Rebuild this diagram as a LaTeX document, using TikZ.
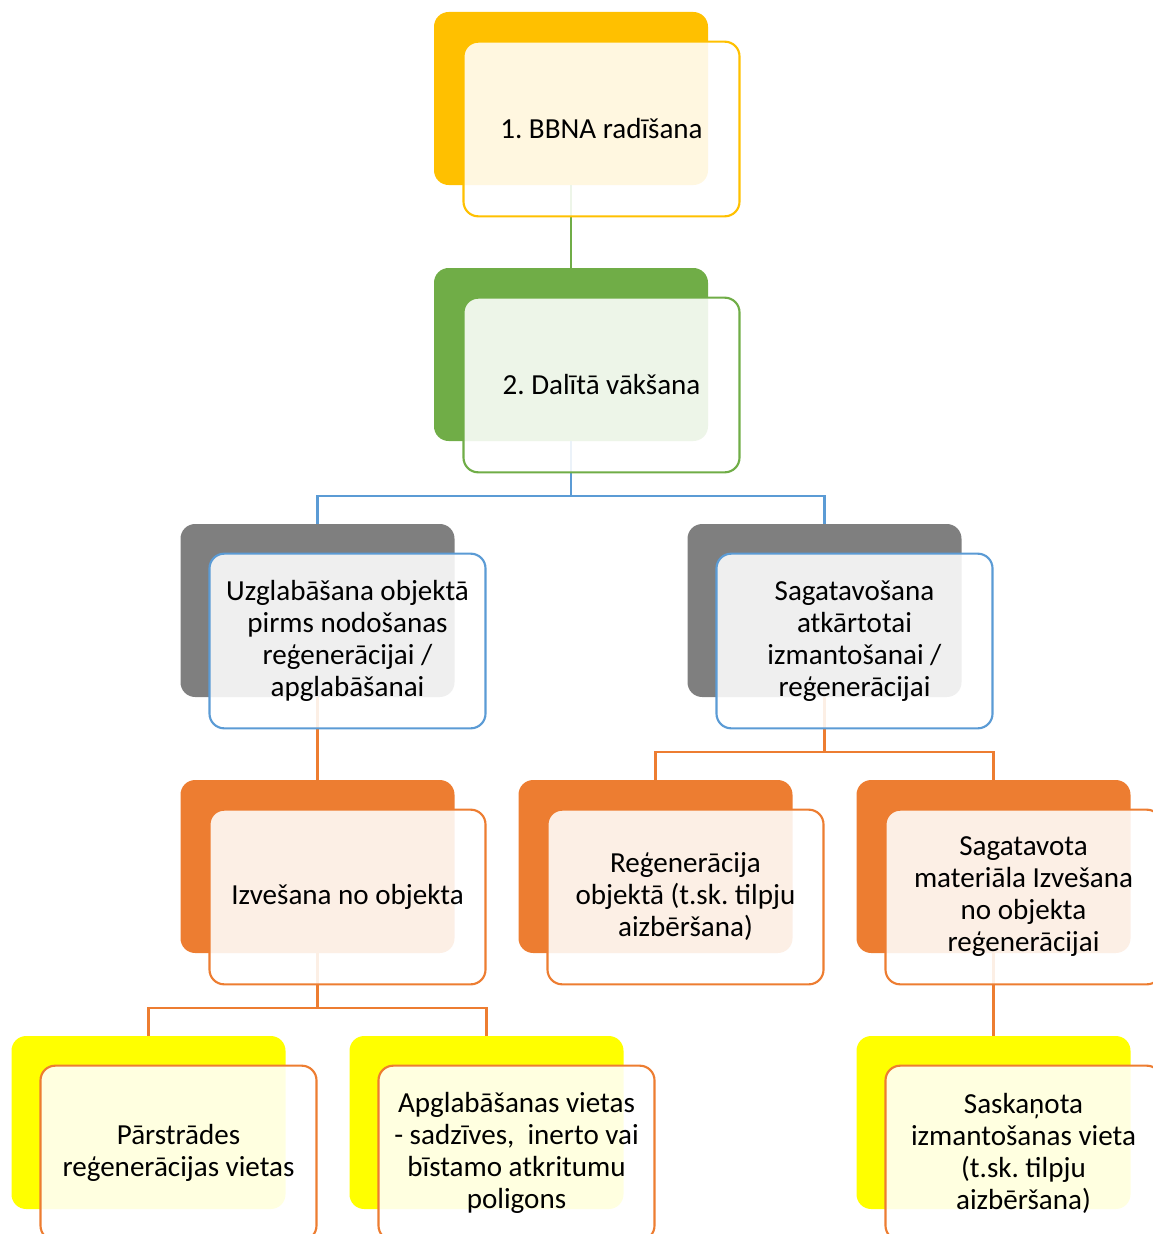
\documentclass[tikz,border=0pt]{standalone}
\usepackage{fontspec}
\setmainfont{Carlito}
\usepackage{xcolor}
\frenchspacing

\definecolor{gold}{HTML}{FFC000}
\definecolor{leaf}{HTML}{70AD47}
\definecolor{slate}{HTML}{7F7F7F}
\definecolor{rust}{HTML}{ED7D31}
\definecolor{lemon}{HTML}{FFFF00}
\definecolor{sky}{HTML}{5B9BD5}

\tikzset{
  backbox/.style={rounded corners=11pt, fill=#1, minimum width=205.5pt, minimum height=129.75pt},
  frontbox/.style={draw=#1, line width=1.6pt, rounded corners=11pt, fill=white, fill opacity=0.88, text opacity=1,
    minimum width=207pt, minimum height=131pt, align=center, font=\fontsize{21.8}{24}\selectfont},
  conn/.style={draw=#1, line width=1.6pt},
  tree/.style={to path={(\tikztostart) -- ++(0,55) -| (\tikztotarget)}}
}

\begin{document}
\begin{tikzpicture}[x=0.75pt,y=-0.75pt]
\useasboundingbox (0,0) rectangle (1152,1234);
% back boxes
\draw (571,98.5) node[backbox=gold](b1) {};
\draw (571,354.5) node[backbox=leaf](b2) {};
\draw (317.5,610.5) node[backbox=slate](b3l) {};
\draw (824.5,610.5) node[backbox=slate](b3r) {};
\draw (317.5,866.5) node[backbox=rust](b4l) {};
\draw (655.5,866.5) node[backbox=rust](b4m) {};
\draw (993.5,866.5) node[backbox=rust](b4r) {};
\draw (148.5,1122.5) node[backbox=lemon](b5l) {};
\draw (486.5,1122.5) node[backbox=lemon](b5m) {};
\draw (993.5,1122.5) node[backbox=lemon](b5r) {};
% connectors
\draw[conn=leaf] (b1) -- (b2);
\draw[conn=sky] (b2.south) to[tree] (b3l.north);
\draw[conn=sky] (b2.south) to[tree] (b3r.north);
\draw[conn=rust] (b3l) -- (b4l);
\draw[conn=rust] (b3r.south) to[tree] (b4m.north);
\draw[conn=rust] (b3r.south) to[tree] (b4r.north);
\draw[conn=rust] (b4l.south) to[tree] (b5l.north);
\draw[conn=rust] (b4l.south) to[tree] (b5m.north);
\draw[conn=rust] (b4r) -- (b5r);
% front boxes
\draw (601.5,129) node[frontbox=gold](f1) {1. BBNA radīšana};
\draw (601.5,385) node[frontbox=leaf](f2) {2. Dalītā vākšana};
\draw (347.5,641) node[frontbox=sky](f3l) {Uzglabāšana objektā\\pirms nodošanas\\reģenerācijai /\\apglabāšanai};
\draw (854.5,641) node[frontbox=sky](f3r) {Sagatavošana\\atkārtotai\\izmantošanai /\\reģenerācijai};
\draw (347.5,897) node[frontbox=rust](f4l) {Izvešana no objekta};
\draw (685.5,897) node[frontbox=rust](f4m) {Reģenerācija\\objektā (t.sk. tilpju\\aizbēršana)};
\draw (1023.5,897) node[frontbox=rust](f4r) {Sagatavota\\materiāla Izvešana\\no objekta\\reģenerācijai};
\draw (178.5,1153) node[frontbox=rust](f5l) {Pārstrādes\\reģenerācijas vietas};
\draw (516.5,1153) node[frontbox=rust](f5m) {Apglabāšanas vietas\\- sadzīves,~ inerto vai\\bīstamo atkritumu\\poligons};
\draw (1023.5,1153) node[frontbox=rust](f5r) {Saskaņota\\izmantošanas vieta\\(t.sk. tilpju\\aizbēršana)};
\end{tikzpicture}
\end{document}
